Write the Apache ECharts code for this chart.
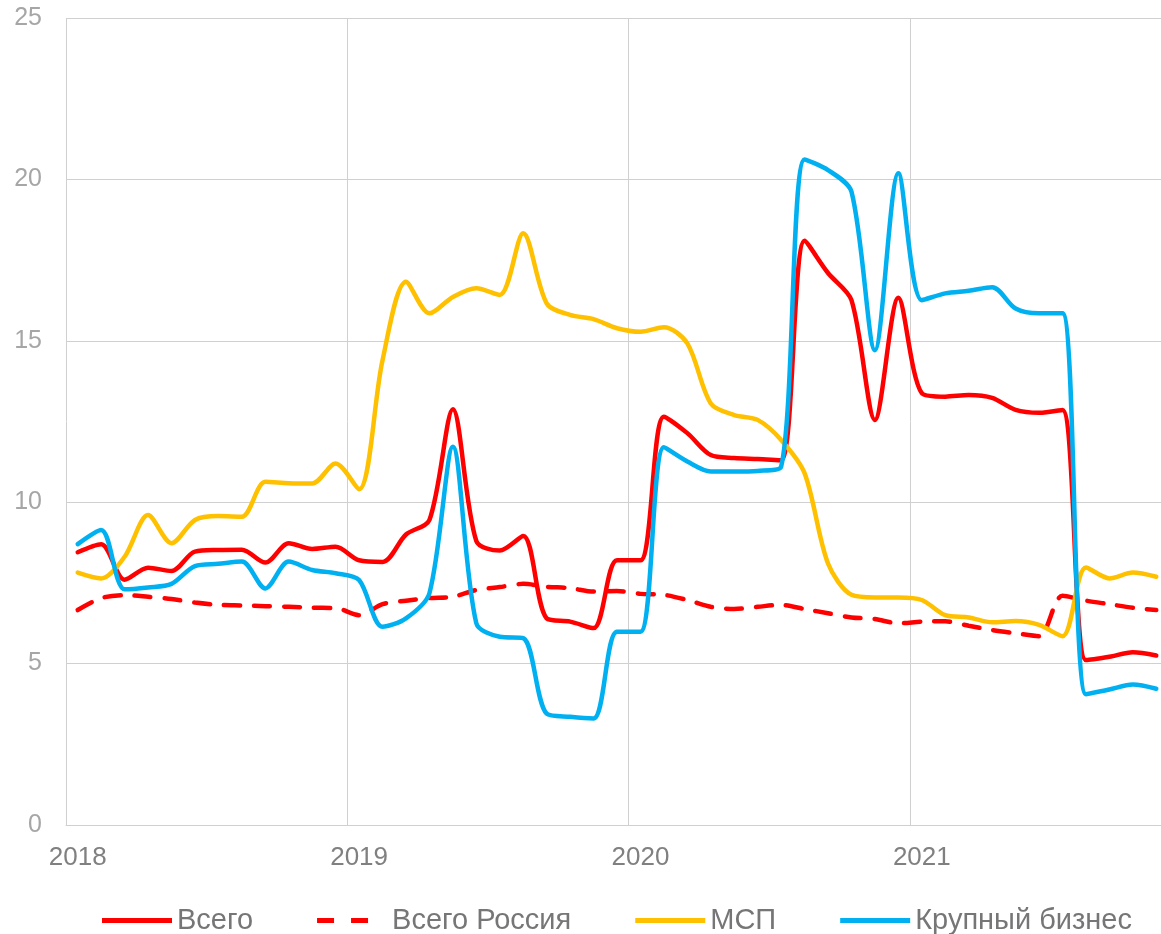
<!DOCTYPE html>
<html>
<head>
<meta charset="utf-8">
<title>chart</title>
<script src="https://cdn.jsdelivr.net/npm/echarts@6/dist/echarts.min.js"></script>
<style>
  html, body { margin: 0; padding: 0; background: #fff; }
  #chart { width: 1161px; height: 934px; }
</style>
</head>
<body>
<div id="chart"></div>
<script>
// months 2018-01 .. 2021-11, label only on January
var years = ['2018', '2019', '2020', '2021'];
var months = [];
for (var y = 0; y < years.length; y++) {
  for (var m = 1; m <= 12; m++) {
    if (months.length < 47) months.push(years[y] + '-' + (m < 10 ? '0' + m : m));
  }
}

var vsego = [8.45, 8.7, 7.6, 7.97, 7.87, 8.47, 8.52, 8.53, 8.13, 8.73, 8.55, 8.62,
  8.2, 8.15, 9.0, 9.45, 12.88, 8.8, 8.5, 8.95, 6.4, 6.3, 6.1, 8.2,
  8.2, 12.65, 12.14, 11.46, 11.37, 11.34, 11.3, 18.1, 17.1, 16.26, 12.55, 16.33,
  13.38, 13.27, 13.32, 13.23, 12.86, 12.77, 12.86, 5.11, 5.21, 5.35, 5.25];

var vsegoRossiya = [6.66, 7.03, 7.12, 7.07, 7.0, 6.89, 6.82, 6.8, 6.78, 6.76, 6.73, 6.72,
  6.5, 6.84, 6.95, 7.03, 7.07, 7.28, 7.37, 7.47, 7.38, 7.34, 7.23, 7.25,
  7.16, 7.13, 6.97, 6.76, 6.69, 6.76, 6.82, 6.69, 6.56, 6.43, 6.38, 6.25,
  6.3, 6.31, 6.17, 6.04, 5.94, 5.85, 7.1, 6.95, 6.84, 6.73, 6.66];

var msp = [7.82, 7.64, 8.31, 9.6, 8.73, 9.45, 9.57, 9.55, 10.63, 10.59, 10.58, 11.2,
  10.4, 14.4, 16.83, 15.85, 16.36, 16.63, 16.42, 18.33, 16.16, 15.8, 15.67, 15.39,
  15.28, 15.42, 14.92, 13.06, 12.7, 12.55, 11.93, 10.9, 8.1, 7.13, 7.05, 7.05,
  6.97, 6.5, 6.43, 6.28, 6.32, 6.2, 5.85, 7.98, 7.64, 7.82, 7.69];

var krupny = [8.7, 9.14, 7.3, 7.36, 7.47, 8.02, 8.09, 8.16, 7.33, 8.16, 7.9, 7.8,
  7.59, 6.14, 6.4, 7.18, 11.72, 6.25, 5.83, 5.79, 3.45, 3.35, 3.3, 5.99,
  5.99, 11.7, 11.26, 10.95, 10.95, 10.97, 11.1, 20.62, 20.29, 19.62, 14.71, 20.19,
  16.26, 16.47, 16.55, 16.66, 16.0, 15.85, 15.85, 4.05, 4.2, 4.35, 4.22];

var yTicks = [0, 5, 10, 15, 20, 25];

// legend icons: a bar for solid, two dashes (plus an empty stroke to keep 70px width)
var solidIcon = 'path://M0,0h70v5h-70z';
var dashIcon = 'path://M0,0h17v5h-17z M34,0h17v5h-17z M70,0v5';

function lineSeries(name, data, color, dash) {
  return {
    name: name,
    type: 'line',
    data: data,
    smooth: 0.3,
    symbol: 'none',
    lineStyle: { color: color, width: 4.5, type: dash ? [16, 14] : 'solid', cap: 'round' },
    itemStyle: { color: color }
  };
}

var myChart = echarts.init(document.getElementById('chart'));
var option = {
  animation: false,
  textStyle: { fontFamily: 'Liberation Sans, Arial, sans-serif' },
  grid: { left: 66, top: 18, width: 1102, height: 807, containLabel: false, outerBoundsMode: 'none' },
  legend: {
    left: 97,
    top: 901,
    itemWidth: 70,
    itemHeight: 5,
    itemGap: 64,
    textStyle: { fontSize: 29, color: '#767676', fontFamily: 'Liberation Sans, Arial, sans-serif' },
    data: [
      { name: 'Всего', icon: solidIcon },
      { name: 'Всего Россия', icon: dashIcon },
      { name: 'МСП', icon: solidIcon },
      { name: 'Крупный бизнес', icon: solidIcon }
    ]
  },
  xAxis: {
    type: 'category',
    data: months,
    boundaryGap: true,
    axisLine: { lineStyle: { color: '#d0d0d0', width: 1 } },
    axisTick: { show: false },
    axisLabel: {
      interval: 11,
      fontSize: 26,
      color: '#808080',
      margin: 20,
      formatter: function (v) { return v.slice(0, 4); }
    },
    splitLine: { show: true, interval: 11, lineStyle: { color: '#d0d0d0', width: 1 } }
  },
  yAxis: {
    type: 'value',
    min: yTicks[0],
    max: yTicks[yTicks.length - 1],
    interval: 5,
    axisLine: { show: false },
    axisTick: { show: false },
    axisLabel: { fontSize: 25, color: '#a6a6a6', margin: 24 },
    splitLine: { lineStyle: { color: '#d0d0d0', width: 1 } }
  },
  series: [
    lineSeries('Всего', vsego, '#ff0000', false),
    lineSeries('Всего Россия', vsegoRossiya, '#ff0000', true),
    lineSeries('МСП', msp, '#ffc000', false),
    lineSeries('Крупный бизнес', krupny, '#00b0f0', false)
  ]
};
myChart.setOption(option);
</script>
</body>
</html>
